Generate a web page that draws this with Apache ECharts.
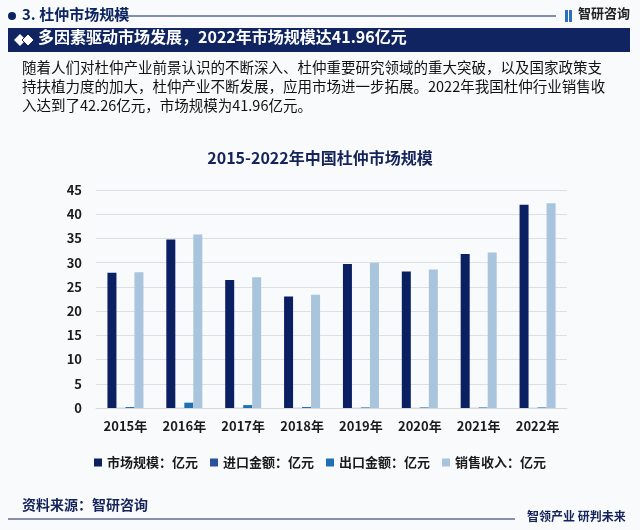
<!DOCTYPE html>
<html><head><meta charset="utf-8">
<script src="https://cdn.jsdelivr.net/npm/echarts@6/dist/echarts.min.js"></script>
<style>html,body{margin:0;padding:0;background:#f9fafc;}#c{width:640px;height:530px;}</style>
</head><body><div id="c"></div>
<script>
const categories = ['2015年','2016年','2017年','2018年','2019年','2020年','2021年','2022年'];
const marketSize = [27.9, 34.8, 26.4, 23.0, 29.7, 28.2, 31.8, 41.96];
const importValue = [0.02, 0.02, 0.02, 0.02, 0.02, 0.02, 0.02, 0.02];
const exportValue = [0.2, 1.1, 0.6, 0.2, 0.12, 0.12, 0.12, 0.12];
const salesRevenue = [28.0, 35.8, 27.0, 23.4, 30.0, 28.6, 32.1, 42.26];
const seriesNames = ['市场规模：亿元','进口金额：亿元','出口金额：亿元','销售收入：亿元'];
const yTicks = {min: 0, max: 45, interval: 5};

const F = '"Noto Sans CJK SC", "Noto Sans", sans-serif';
const navy = '#0c2461';
const chart = echarts.init(document.getElementById('c'));
chart.setOption({
  backgroundColor: '#f9fafc',
  animation: false,
  textStyle: {fontFamily: F},
  title: {
    text: '2015-2022年中国杜仲市场规模',
    left: 'center', top: 145,
    textStyle: {fontFamily: F, fontSize: 16, fontWeight: 'bold', color: '#14245a'}
  },
  legend: {
    bottom: 56, left: 'center',
    itemWidth: 8, itemHeight: 8, itemGap: 12,
    icon: 'rect',
    textStyle: {fontFamily: F, fontSize: 13, fontWeight: 'bold', color: '#1a1a1a'}
  },
  grid: {left: 96, right: 73, top: 190, bottom: 122},
  xAxis: {
    type: 'category', data: categories,
    axisTick: {show: false},
    axisLine: {lineStyle: {color: '#d9d9d9'}},
    axisLabel: {fontFamily: F, fontSize: 13, fontWeight: 'bold', color: '#1a1a1a', margin: 12}
  },
  yAxis: {
    type: 'value', min: yTicks.min, max: yTicks.max, interval: yTicks.interval,
    axisLine: {show: false}, axisTick: {show: false},
    splitLine: {lineStyle: {color: '#dcdfe4'}},
    axisLabel: {fontFamily: F, fontSize: 13, fontWeight: 'bold', color: '#1a1a1a', margin: 14}
  },
  series: [
    {name: seriesNames[0], type: 'bar', data: marketSize, barWidth: 9, barGap: '0%', itemStyle: {color: '#0b1f63'}},
    {name: seriesNames[1], type: 'bar', data: importValue, barWidth: 9, barGap: '0%', itemStyle: {color: '#2c4f9e'}},
    {name: seriesNames[2], type: 'bar', data: exportValue, barWidth: 9, barGap: '0%', itemStyle: {color: '#1d6fb6'}},
    {name: seriesNames[3], type: 'bar', data: salesRevenue, barWidth: 9, barGap: '0%', itemStyle: {color: '#a9c4dd'}}
  ],
  graphic: [
    {type: 'circle', shape: {cx: 12, cy: 16, r: 4}, style: {fill: navy}},
    {type: 'text', left: 22, top: 7, style: {text: '3. 杜仲市场规模', fontFamily: F, fontSize: 15, fontWeight: 'bold', fill: navy}},
    {type: 'line', shape: {x1: 110, y1: 16, x2: 556, y2: 16}, style: {stroke: navy, lineWidth: 1}},
    {type: 'rect', shape: {x: 565, y: 10, width: 3, height: 12}, style: {fill: '#2f6fc0'}},
    {type: 'rect', shape: {x: 569, y: 10, width: 3, height: 12}, style: {fill: '#2f6fc0'}},
    {type: 'text', left: 578, top: 7, style: {text: '智研咨询', fontFamily: F, fontSize: 13, fontWeight: 'bold', fill: '#222'}},
    {type: 'rect', shape: {x: 8, y: 28, width: 622, height: 24}, style: {fill: '#0f2461'}},
    {type: 'polygon', shape: {points: [[14, 40], [20, 34], [26, 40], [20, 46]]}, style: {fill: '#fff'}},
    {type: 'polygon', shape: {points: [[22, 40], [28, 34], [34, 40], [28, 46]]}, style: {fill: '#fff', stroke: '#0f2461', lineWidth: 1}},
    {type: 'text', left: 38, top: 29, style: {text: '多因素驱动市场发展，2022年市场规模达41.96亿元', fontFamily: F, fontSize: 16, fontWeight: 'bold', fill: '#fff'}},
    {type: 'text', left: 22, top: 58, style: {
      text: '随着人们对杜仲产业前景认识的不断深入、杜仲重要研究领域的重大突破，以及国家政策支\n持扶植力度的加大，杜仲产业不断发展，应用市场进一步拓展。2022年我国杜仲行业销售收\n入达到了42.26亿元，市场规模为41.96亿元。',
      fontFamily: F, fontSize: 14.5, lineHeight: 19, fill: '#111'}},
    {type: 'text', left: 22, top: 498, style: {text: '资料来源：智研咨询', fontFamily: F, fontSize: 14, fontWeight: 'bold', fill: '#14245a'}},
    {type: 'line', shape: {x1: 8, y1: 519, x2: 515, y2: 519}, style: {stroke: '#14245a', lineWidth: 1}},
    {type: 'text', left: 527, top: 510, style: {text: '智领产业 研判未来', fontFamily: F, fontSize: 12, fontWeight: 'bold', fill: '#14245a'}}
  ]
});
</script></body></html>
